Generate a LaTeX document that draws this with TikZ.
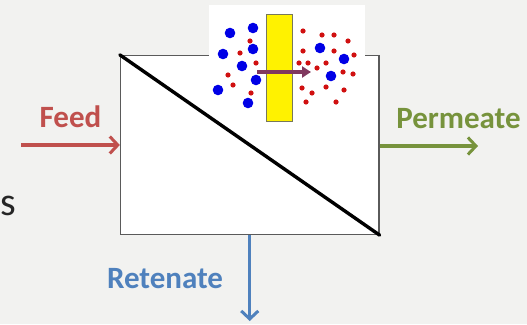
\documentclass[tikz,border=0pt]{standalone}
\usepackage{fontspec}
\setmainfont{Carlito}
\usetikzlibrary{arrows.meta}
\definecolor{bgcol}{HTML}{F2F2F0}
\definecolor{feedcol}{HTML}{C0504D}
\definecolor{permcol}{HTML}{77933C}
\definecolor{retcol}{HTML}{4F81BD}
\definecolor{boxline}{HTML}{5A5A5A}
\definecolor{passcol}{HTML}{80395F}
\definecolor{bigdot}{HTML}{0000E6}
\definecolor{smalldot}{HTML}{D01010}
\tikzset{
  flowlabel/.style={font=\bfseries\fontsize{31}{32}\selectfont, anchor=base, inner sep=0pt},
  flowarrow/.style={line width=3.2pt, -{Straight Barb[length=8pt,width=17pt,line width=3pt]}},
  unitbox/.style={draw=boxline, line width=1.3pt, fill=white, minimum width=258.5pt, minimum height=179pt, inner sep=0pt},
  big/.style={fill=bigdot},
  small/.style={fill=smalldot},
}
\begin{document}
\begin{tikzpicture}[x=1pt,y=-1pt]
  % page area and background
  \useasboundingbox (0,0) rectangle (527,324);
  \clip (0,0) rectangle (527,324);
  \fill[bgcol] (0,0) rectangle (527,324);

  % leftover letter at the left edge
  \node[font=\fontsize{40}{42}\selectfont, text={rgb,255:red,38;green,38;blue,38}, anchor=base west, inner sep=0pt] (tail) at (0,215) {s};

  % membrane unit
  \node[unitbox] (box) at (249.75,145) {};

  % close-up of the membrane
  \fill[white] (209,5) rectangle (365,125);
  \node[fill=yellow, draw={rgb,255:red,120;green,120;blue,90}, line width=0.5pt, minimum width=26pt, minimum height=107pt, inner sep=0pt] (membrane) at (279.3,67.3) {};

  % diagonal membrane across the unit
  \draw[line width=3.4pt, line cap=round] (box.north west) -- (box.south east);

  % large (retained) particles
  \foreach \px/\py in {230/33, 253/28, 223/54, 253/49, 242/66, 256/80, 218/90, 248/103, 320/48, 344/59, 331/76}
    \fill[big] (\px,\py) circle (5.3);
  % small (passing) particles
  \foreach \px/\py in {250/41, 240/53, 256/63, 228/75, 233/85, 251/93,
                       303/31, 322/35, 334/35, 348/41, 303/51, 334/51, 354/55,
                       299/63, 308/63, 326/63, 317/68, 343/72, 353/74,
                       302/88, 312/93, 326/87, 344/90, 306/102, 336/102}
    \fill[small] (\px,\py) circle (2.6);

  % passage through the membrane
  \coordinate (passA) at (257,72);
  \coordinate (passB) at (311,72);
  \draw[passcol, line width=3.5pt, -{Triangle[length=9pt,width=11pt]}] (passA) -- (passB);

  % streams
  \coordinate (feedin) at (21,145);
  \coordinate (permout) at (478,146);
  \coordinate (retout) at (249.75,321);
  \draw[feedcol, flowarrow] (feedin) -- (box.west);
  \draw[permcol, flowarrow] (box.east |- permout) -- (permout);
  \draw[retcol, flowarrow] (box.south) -- (retout);

  \node[flowlabel, text=feedcol] (feed) at (70.5,127) {Feed};
  \node[flowlabel, text=permcol] (perm) at (458.5,128) {Permeate};
  \node[flowlabel, text=retcol] (ret) at (165,288) {Retenate};
\end{tikzpicture}
\end{document}
